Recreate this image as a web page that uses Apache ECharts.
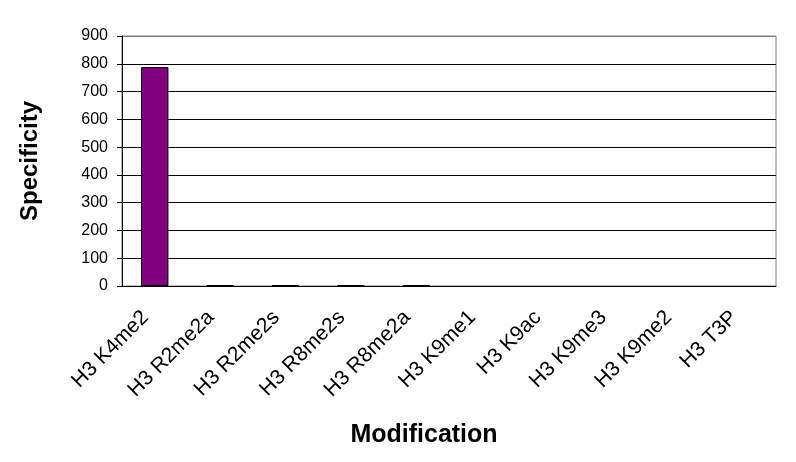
<!DOCTYPE html>
<html>
<head>
<meta charset="UTF-8">
<script src="https://cdn.jsdelivr.net/npm/echarts@6/dist/echarts.min.js"></script>
<title>Specificity</title>
<style>
html, body { margin: 0; padding: 0; background: #fff; }
#chart { width: 796px; height: 462px; }
</style>
</head>
<body>
<div id="chart"></div>
<script>
var categories = ['H3 K4me2', 'H3 R2me2a', 'H3 R2me2s', 'H3 R8me2s', 'H3 R8me2a',
	'H3 K9me1', 'H3 K9ac', 'H3 K9me3', 'H3 K9me2', 'H3 T3P'];
var specificity = [788, 3, 3, 3, 3, 0, 0, 0, 0, 0];
var yTicks = [0, 100, 200, 300, 400, 500, 600, 700, 800, 900];

// zero bars draw nothing (no outline)
var barData = specificity.map(function (v) {
	return { value: v, itemStyle: { borderWidth: v > 0 ? 1 : 0 } };
});

// grid lines black, the top one grey like the plot border
var splitColors = yTicks.map(function (t, i) {
	return i === yTicks.length - 1 ? '#808080' : '#000';
});

var chart = echarts.init(document.getElementById('chart'));
var option = {
	animation: false,
	backgroundColor: '#fff',
	grid: { left: 122, right: 20, top: 36, bottom: 176, show: true, borderColor: '#808080', borderWidth: 1 },
	xAxis: {
		type: 'category',
		data: categories,
		name: 'Modification',
		nameLocation: 'middle',
		nameGap: 137,
		nameTextStyle: { fontFamily: 'Liberation Sans', fontSize: 25, fontWeight: 'bold', color: '#000', padding: [0, 50, 0, 0] },
		axisLine: { lineStyle: { color: '#000', width: 1 } },
		axisTick: { length: 6, lineStyle: { color: '#000' } },
		axisLabel: { interval: 0, rotate: 45, margin: 19, padding: [0, 13, 0, 0], fontFamily: 'Liberation Sans', fontSize: 21, color: '#000' }
	},
	yAxis: {
		type: 'value',
		min: yTicks[0],
		max: yTicks[yTicks.length - 1],
		interval: 100,
		name: 'Specificity',
		nameLocation: 'middle',
		nameGap: 80,
		nameTextStyle: { fontFamily: 'Liberation Sans', fontSize: 24, fontWeight: 'bold', color: '#000' },
		axisLine: { show: true, lineStyle: { color: '#000' } },
		axisTick: { show: true, length: 5, lineStyle: { color: '#000' } },
		axisLabel: { fontFamily: 'Liberation Sans', fontSize: 16, color: '#000', margin: 14 },
		splitLine: { show: true, lineStyle: { color: splitColors, width: 1 } }
	},
	series: [{
		type: 'bar',
		data: barData,
		barWidth: '42%',
		itemStyle: { color: '#800080', borderColor: '#000', borderWidth: 1 }
	}]
};
chart.setOption(option);
</script>
</body>
</html>
